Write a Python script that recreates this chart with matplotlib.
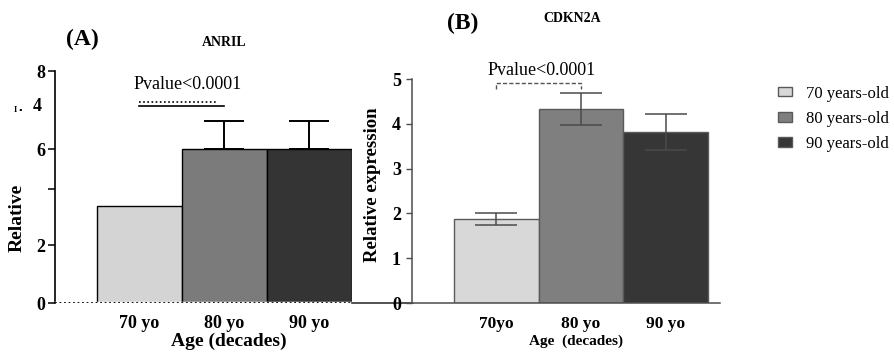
import matplotlib
matplotlib.use("Agg")
import matplotlib.pyplot as plt

# data
grupos = ["70 years-old", "80 years-old", "90 years-old"]

anril_xlabels = ["70 yo", "80 yo", "90 yo"]
anril_vals = [3.34, 5.31, 5.31]
anril_err = [0.0, 0.97, 0.97]
anril_yticks = [0, 2, 3.93, 5.31, 8]
anril_yticklabels = ["0", "2", "", "6", "8"]
anril_stray_tick = ("4", 6.76)

cdkn_xlabels = ["70yo", "80 yo", "90 yo"]
cdkn_vals = [1.87, 4.33, 3.82]
cdkn_err = [0.13, 0.36, 0.40]
cdkn_yticks = [0, 1, 2, 3, 4, 5]

colores_a = ["#d4d4d4", "#7b7b7b", "#343434"]
colores_b = ["#d8d8d8", "#7f7f7f", "#363636"]

plt.rcParams["font.family"] = ["Liberation Serif", "DejaVu Serif"]

W, H = 894, 356
fig = plt.figure(figsize=(W / 100, H / 100), dpi=100)


def px(x0, y0, x1, y1):
    # pixel box -> figure fraction [left, bottom, width, height]
    return [x0 / W, 1 - y1 / H, (x1 - x0) / W, (y1 - y0) / H]


# ---------------- (A) ANRIL ----------------
axA = fig.add_axes(px(55, 71, 352, 303))
xs = list(range(len(anril_vals)))
axA.bar(xs, anril_vals, width=1.0, color=colores_a, edgecolor="black", linewidth=1.0, zorder=2)
con_err = [i for i in xs if anril_err[i] > 0]
axA.errorbar([xs[i] for i in con_err], [anril_vals[i] for i in con_err],
             yerr=[[0] * len(con_err), [anril_err[i] for i in con_err]], fmt="none", ecolor="black",
             elinewidth=1.4, capsize=14.5, capthick=1.4, zorder=3)
axA.set_xlim(-0.994, 2.5)
axA.set_ylim(0, 8)
for s in ["top", "right", "bottom"]:
    axA.spines[s].set_visible(False)
axA.spines["left"].set_linewidth(1.2)
# dotted baseline under the bars, solid on to panel B
axA.axhline(0, color="white", lw=2.5, zorder=4)
axA.axhline(0, color="black", lw=1.3, ls=(0, (1, 1.5)), zorder=5)
axA.plot([2.5, 2.5 + 61 / 85], [0, 0], color="#333333", lw=1.2, clip_on=False, zorder=5)

axA.set_yticks(anril_yticks)
axA.set_yticklabels(anril_yticklabels, fontsize=13, fontweight="bold")
axA.tick_params(axis="y", length=5, width=1.1, pad=2)
axA.text(-0.045, anril_stray_tick[1], anril_stray_tick[0], transform=axA.get_yaxis_transform(),
         ha="right", va="center", fontsize=13, fontweight="bold")
axA.set_xticks(xs)
axA.set_xticklabels(anril_xlabels, fontsize=13, fontweight="bold")
axA.tick_params(axis="x", length=0, pad=9)
axA.set_xlabel("Age (decades)", fontsize=14, fontweight="bold")
axA.xaxis.set_label_coords(0.586, -0.13)
axA.set_ylabel("Relative", fontsize=14, fontweight="bold")
axA.yaxis.set_label_coords(-0.10, 0.366)

axA.text(-0.076, 7.52, "Pvalue<0.0001", fontsize=13, va="center", ha="left")
axA.plot([0.0, 0.91], [6.93, 6.93], color="black", lw=1.2, ls=(0, (1, 1.5)))
axA.plot([0.0, 1.0], [6.79, 6.79], color="black", lw=1.2)

fig.text(82 / W, 1 - 39 / H, "(A)", fontsize=17, fontweight="bold", ha="center", va="center")
fig.text(224 / W, 1 - 43 / H, "ANRIL", fontsize=10, fontweight="bold", ha="center", va="center")
fig.text(18 / W, 1 - 110 / H, "I \u25aa", fontsize=6, fontweight="bold", ha="center", va="center",
         family=["Liberation Serif", "DejaVu Sans"])

# ---------------- (B) CDKN2A ----------------
axB = fig.add_axes(px(412, 79, 720, 303))
barsB = axB.bar(xs, cdkn_vals, width=1.0, color=colores_b, edgecolor="#5a5a5a", linewidth=1.0, zorder=2)
axB.errorbar(xs, cdkn_vals, yerr=cdkn_err, fmt="none", ecolor="#4a4a4a",
             elinewidth=1.1, capsize=15, capthick=1.1, zorder=3)
axB.set_xlim(-0.996, 2.64)
axB.set_ylim(0, 5)
for s in ["top", "right"]:
    axB.spines[s].set_visible(False)
for s in ["left", "bottom"]:
    axB.spines[s].set_color("#4d4d4d")
    axB.spines[s].set_linewidth(1.1)
axB.set_yticks(cdkn_yticks)
axB.set_yticklabels([str(v) for v in cdkn_yticks], fontsize=13, fontweight="bold")
axB.tick_params(axis="y", length=4, width=1.0, color="#4d4d4d", pad=4)
axB.set_xticks(xs)
axB.set_xticklabels(cdkn_xlabels, fontsize=12.5, fontweight="bold")
axB.tick_params(axis="x", length=0, pad=9)
axB.set_xlabel("Age  (decades)", fontsize=11, fontweight="bold")
axB.xaxis.set_label_coords(0.532, -0.14)
axB.set_ylabel("Relative expression", fontsize=13.5, fontweight="bold")
axB.yaxis.set_label_coords(-0.10, 0.53)

axB.text(-0.1, 5.18, "Pvalue<0.0001", fontsize=13, va="center", ha="left", clip_on=False)
axB.plot([0, 0, 1.0, 1.0], [4.78, 4.91, 4.91, 4.78], color="#555555", lw=1.0,
         ls=(0, (3, 1.5)), clip_on=False)

fig.text(463 / W, 1 - 23 / H, "(B)", fontsize=17, fontweight="bold", ha="center", va="center")
fig.text(543 / W, 1 - 19 / H, "CDKN2A", fontsize=10, fontweight="bold", ha="left", va="center")

leg = fig.legend(barsB, grupos, loc="upper left", bbox_to_anchor=(766 / W, 1 - 74 / H),
                 frameon=False, fontsize=12, handlelength=0.85, handleheight=0.5,
                 labelspacing=0.55, handletextpad=0.85, borderpad=0.2)

fig.savefig("out.png", dpi=100)
